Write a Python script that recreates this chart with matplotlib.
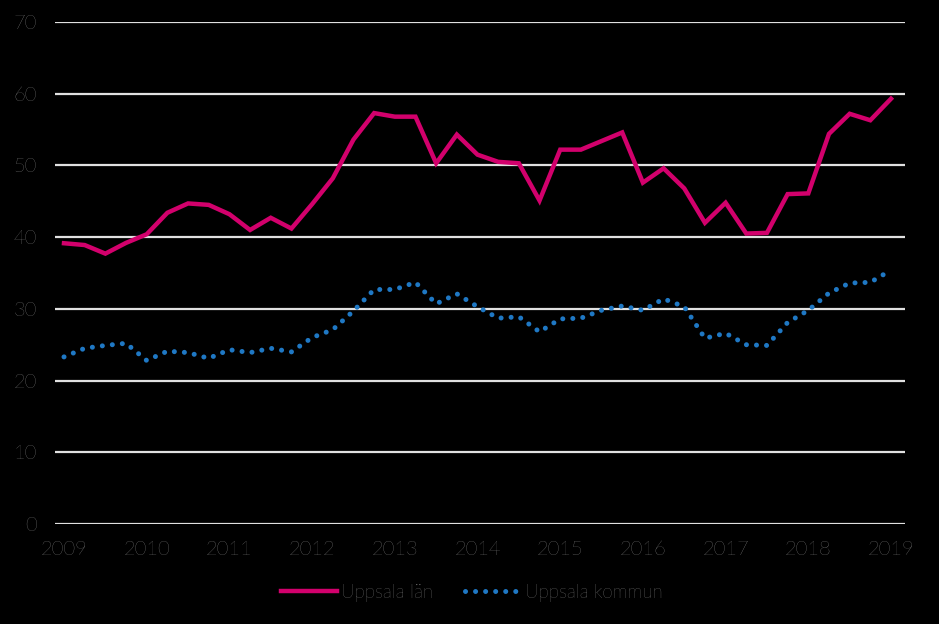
import matplotlib
matplotlib.use("Agg")
import matplotlib.pyplot as plt
import numpy as np

years = np.arange(2009, 2019.01, 0.25)
lan = [39.15, 38.9, 37.7, 39.2, 40.4, 43.4, 44.7, 44.5, 43.2, 41.0,
       42.7, 41.2, 44.6, 48.2, 53.6, 57.3, 56.8, 56.8, 50.3, 54.3,
       51.5, 50.5, 50.3, 45.1, 52.2, 52.2, 53.4, 54.6, 47.6, 49.6,
       46.8, 42.0, 44.8, 40.5, 40.6, 46.0, 46.1, 54.4, 57.2, 56.3, 59.3]
kommun = [23.3, 24.5, 24.9, 25.2, 22.8, 24.1, 23.9, 23.1, 24.3, 23.9,
          24.5, 24.0, 26.0, 27.1, 29.7, 32.7, 32.7, 33.7, 30.7, 32.1,
          30.3, 28.7, 28.9, 26.8, 28.6, 28.7, 29.8, 30.4, 29.8, 31.4,
          30.3, 25.9, 26.6, 25.0, 24.9, 28.1, 29.8, 32.2, 33.6, 33.7, 35.4]
xticks = list(range(2009, 2020))
yticks = list(range(0, 71, 10))
labels = ["Uppsala län", "Uppsala kommun"]

plt.rcParams['font.family'] = ['Lato', 'DejaVu Sans']
fig = plt.figure(figsize=(9.39, 6.24), dpi=100, facecolor='black')
ax = fig.add_axes([55/939, 100/624, 850/939, 502/624], facecolor='black')

ax.set_ylim(0, 70)
ax.set_xlim(2009 - 9/82.7, 2019 + 14/82.7)
ax.set_yticks(yticks)
ax.set_xticks(xticks)
ax.grid(axis='y', color='#e0e0e0', linewidth=1.6)
ax.set_axisbelow(True)
for s in ax.spines.values():
    s.set_visible(False)
ax.tick_params(axis='both', length=0, colors='#a8a8a8', labelsize=14.5)
ax.tick_params(axis='y', pad=13)
ax.tick_params(axis='x', pad=12)
for t in ax.get_xticklabels() + ax.get_yticklabels():
    t.set_fontweight('light')

ax.plot(years, lan, color='#d2006c', linewidth=3.2, solid_joinstyle='miter',
        label=labels[0])
ax.plot(years, kommun, color='#1f78c4', linewidth=3.6,
        linestyle=(0, (0.01, 2.0)), dash_capstyle='round', label=labels[1])

leg = fig.legend(loc='center', bbox_to_anchor=(472/939, 1 - 593/624), ncol=2,
                 frameon=False, fontsize=13.5, handlelength=3.0, handletextpad=0.2,
                 columnspacing=1.7, labelcolor='#a8a8a8')
for t in leg.get_texts():
    t.set_fontweight('light')

fig.savefig('out.png', dpi=100, facecolor='black')
